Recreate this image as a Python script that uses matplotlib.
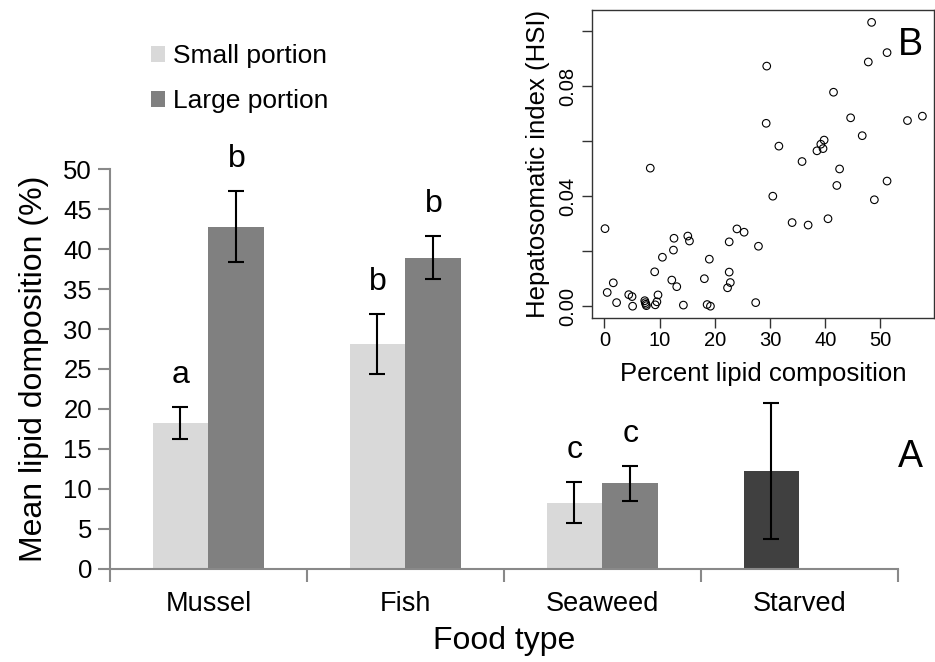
import numpy as np
from matplotlib import pyplot as plt

plt.rcParams['font.family'] = ['Liberation Sans', 'DejaVu Sans']

# lipid content by food type (mean, SE)
foods = ['Mussel', 'Fish', 'Seaweed', 'Starved']
small = [18.2, 28.1, 8.3]
small_err = [2.0, 3.75, 2.6]
large = [42.8, 38.9, 10.7]
large_err = [4.4, 2.7, 2.2]
starved = [12.3]
starved_err = [8.5]
small_letters = ['a', 'b', 'c']
large_letters = ['b', 'b', 'c']

# HSI vs percent lipid, individual fish
lipid = [48.4, 51.2, 47.8, 29.4, 41.5, 29.3, 44.6, 54.9, 57.6, 46.7,
         31.6, 39.8, 39.2, 39.6, 38.5, 35.8, 8.3, 42.6, 42.1, 51.2,
         30.5, 48.9, 40.5, 34.0, 36.9, 0.1, 24.0, 25.3, 15.1, 12.6,
         15.4, 22.6, 27.9, 12.5, 10.5, 19.0, 9.1, 22.6, 12.2, 18.1,
         1.6, 22.8, 13.1, 22.3, 0.5, 4.4, 5.0, 9.7, 2.2, 7.3,
         7.4, 7.5, 7.6, 5.1, 9.5, 9.2, 14.3, 18.6, 19.2, 27.4]
hsi = [0.1032, 0.0922, 0.0888, 0.0873, 0.0778, 0.0665, 0.0685, 0.0675, 0.0691, 0.0620,
       0.0582, 0.0604, 0.0589, 0.0573, 0.0565, 0.0526, 0.0502, 0.0499, 0.0439, 0.0455,
       0.0400, 0.0387, 0.0318, 0.0304, 0.0295, 0.0282, 0.0281, 0.0269, 0.0255, 0.0247,
       0.0237, 0.0234, 0.0218, 0.0204, 0.0178, 0.0171, 0.0125, 0.0124, 0.0095, 0.0100,
       0.0085, 0.0086, 0.0071, 0.0067, 0.0050, 0.0042, 0.0035, 0.0041, 0.0013, 0.0020,
       0.0013, 0.0007, 0.0002, 0.0000, 0.0016, 0.0005, 0.0004, 0.0006, 0.0000, 0.0013]

fig = plt.figure(figsize=(9.35, 6.62), dpi=100)
ax = fig.add_axes([0.1176, 0.1405, 0.8428, 0.6042])

w = 0.284
idx = np.arange(3)
axis_grey = '#898989'
ekw = dict(ecolor='black', elinewidth=1.5, capsize=6, capthick=1.5)

ax.bar(idx - w/2, small, w, yerr=small_err, color='#d9d9d9', label='Small portion', error_kw=ekw)
ax.bar(idx + w/2, large, w, yerr=large_err, color='#808080', label='Large portion', error_kw=ekw)
ax.bar([3 - w/2], starved, w, yerr=starved_err, color='#404040', error_kw=ekw)

for i in range(3):
    ax.text(i - w/2, small[i] + small_err[i] + 3.0, small_letters[i], ha='center', va='baseline', fontsize=23)
    ax.text(i + w/2, large[i] + large_err[i] + 3.0, large_letters[i], ha='center', va='baseline', fontsize=23)

ax.set_xlim(-0.5, 3.5)
ax.set_ylim(0, 50)
ax.set_yticks(np.arange(0, 51, 5))
ax.set_xticks(np.arange(-0.5, 3.6, 1))
ax.set_xticklabels([])
ax.set_xticks(np.arange(4), foods, minor=True)
ax.tick_params(axis='x', which='major', direction='out', length=9, width=1.5, color=axis_grey)
ax.tick_params(axis='x', which='minor', length=0, pad=16, labelsize=19.5)
ax.tick_params(axis='y', direction='out', length=9, width=1.5, color=axis_grey, labelsize=18.5, pad=4)
for s in ['top', 'right']:
    ax.spines[s].set_visible(False)
for s in ['left', 'bottom']:
    ax.spines[s].set_color(axis_grey)
    ax.spines[s].set_linewidth(1.5)
ax.set_xlabel('Food type', fontsize=23, labelpad=6)
ax.set_ylabel('Mean lipid domposition (%)', fontsize=23, labelpad=10)

ax.legend(loc='upper left', bbox_to_anchor=(0.147, 0.953), bbox_transform=fig.transFigure,
          frameon=False, fontsize=19, handlelength=0.55, handleheight=0.55,
          handletextpad=0.3, labelspacing=0.8, borderpad=0)

fig.text(910 / 935, 1 - 457 / 662, 'A', fontsize=27, ha='center', va='center')

# inset scatter
ins = fig.add_axes([0.6329, 0.5196, 0.366, 0.4653])
ins.scatter(lipid, hsi, s=30, facecolors='none', edgecolors='black', linewidths=0.8)
ins.set_xlim(-2.3, 59.7)
ins.set_ylim(-0.0043, 0.1077)
ins.set_xticks(np.arange(0, 51, 10))
ins.set_yticks(np.arange(0, 0.101, 0.02))
ins.set_yticklabels(['0.00', '', '0.04', '', '0.08', ''], rotation=90, va='center')
ins.tick_params(direction='out', length=7, width=1, labelsize=14.5, color='#333333')
ins.tick_params(axis='x', pad=2)
for s in ins.spines.values():
    s.set_color('#333333')
    s.set_linewidth(1)
ins.set_xlabel('Percent lipid composition', fontsize=18.5, labelpad=9)
ins.set_ylabel('Hepatosomatic index (HSI)', fontsize=18.5, labelpad=6)
ins.text(0.93, 0.885, 'B', transform=ins.transAxes, fontsize=27, ha='center', va='center')

fig.savefig('out.png', dpi=100)
